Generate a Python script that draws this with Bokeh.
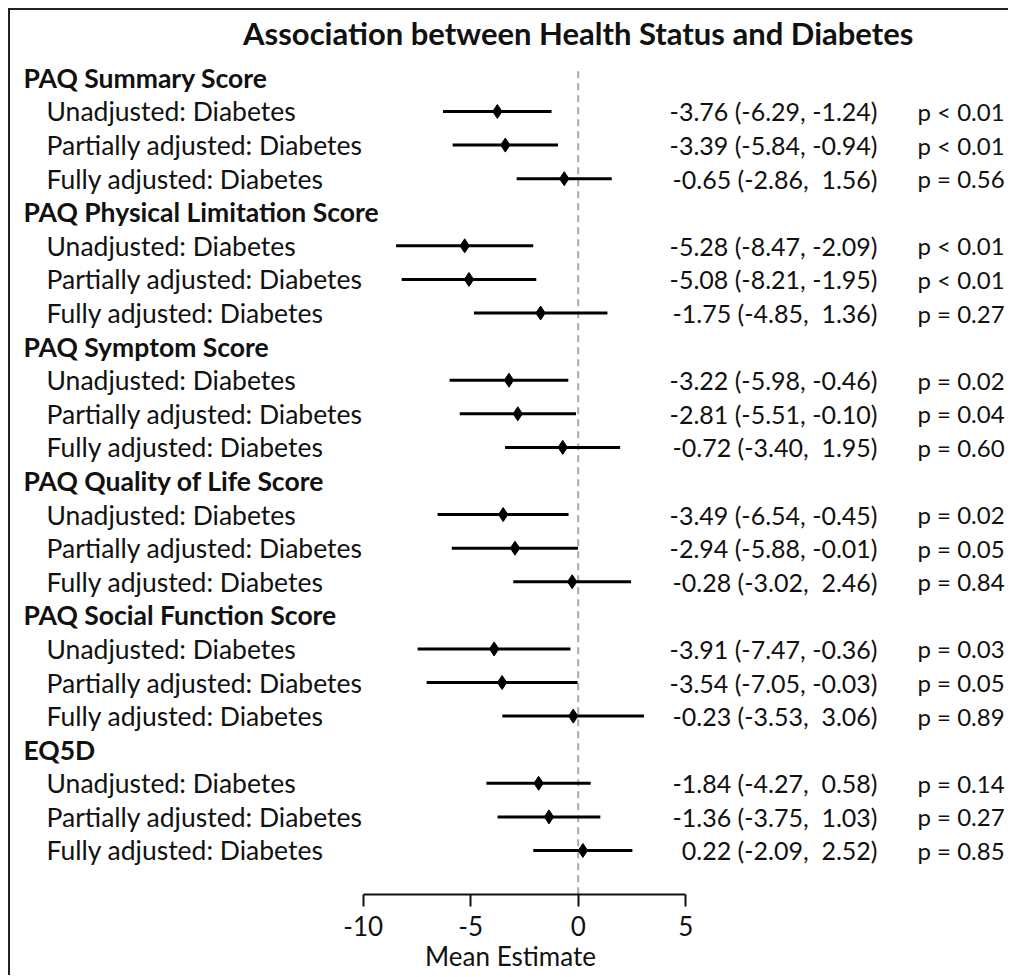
from bokeh.plotting import figure
from bokeh.models import Range1d, FixedTicker, ColumnDataSource
from bokeh.core.properties import value
from bokeh.embed import file_html
from bokeh.resources import INLINE

# ---------------- data ----------------
title_text = "Association between Health Status and Diabetes"
groups = ["PAQ Summary Score", "PAQ Physical Limitation Score", "PAQ Symptom Score",
          "PAQ Quality of Life Score", "PAQ Social Function Score", "EQ5D"]
models = ["Unadjusted: Diabetes", "Partially adjusted: Diabetes", "Fully adjusted: Diabetes"]
est = [-3.76, -3.39, -0.65,
       -5.28, -5.08, -1.75,
       -3.22, -2.81, -0.72,
       -3.49, -2.94, -0.28,
       -3.91, -3.54, -0.23,
       -1.84, -1.36, 0.22]
lo = [-6.29, -5.84, -2.86,
      -8.47, -8.21, -4.85,
      -5.98, -5.51, -3.40,
      -6.54, -5.88, -3.02,
      -7.47, -7.05, -3.53,
      -4.27, -3.75, -2.09]
hi = [-1.24, -0.94, 1.56,
      -2.09, -1.95, 1.36,
      -0.46, -0.10, 1.95,
      -0.45, -0.01, 2.46,
      -0.36, -0.03, 3.06,
      0.58, 1.03, 2.52]
p_labels = ["p < 0.01", "p < 0.01", "p = 0.56",
            "p < 0.01", "p < 0.01", "p = 0.27",
            "p = 0.02", "p = 0.04", "p = 0.60",
            "p = 0.02", "p = 0.05", "p = 0.84",
            "p = 0.03", "p = 0.05", "p = 0.89",
            "p = 0.14", "p = 0.27", "p = 0.85"]
x_ticks = [-10, -5, 0, 5]
x_label = "Mean Estimate"

# ---------------- layout helpers ----------------
FONT = "Lato"
n_per = len(models) + 1
header_y = [g * n_per for g in range(len(groups))]
row_y, row_lab = [], []
for g in range(len(groups)):
    for m, lab in enumerate(models):
        row_y.append(g * n_per + 1 + m)
        row_lab.append(lab)
est_txt = []
for e, l, h in zip(est, lo, hi):
    hs = f"{h:.2f}"
    if h >= 0:
        hs = "\u00a0" + hs
    est_txt.append(f"{e:.2f} ({l:.2f}, {hs})")

# pixel geometry (page px): x=0 at 577.7, 21.5 px/unit; rows start 77.4, 33.59 px/row
px0, pxu = 577.7, 21.5
py0, pyu = 77.4, 33.59
left, top, right = 10, 10, 1010
axis_y = 894
W, H = right - left, 977 - top
x_range = Range1d((left - px0) / pxu, (right - px0) / pxu)
y_range = Range1d((axis_y - py0) / pyu, (top - py0) / pyu)

p = figure(width=W, height=H, output_backend="svg", toolbar_location=None,
           x_range=x_range, y_range=y_range, y_axis_location=None,
           min_border_left=0, min_border_right=0, min_border_top=0,
           min_border_bottom=H - (axis_y - top))
p.styles = {"margin-left": f"{left}px", "margin-top": f"{top}px",
            "box-shadow": "-2px -2px 0px 0px #222"}
p.outline_line_color = None
p.grid.visible = False
p.background_fill_color = "white"
p.border_fill_color = "white"

ax = p.xaxis[0]
ax.ticker = FixedTicker(ticks=x_ticks)
ax.bounds = (min(x_ticks), max(x_ticks))
ax.major_label_overrides = {t: str(t) for t in x_ticks}
ax.axis_line_width = 2
ax.axis_line_color = "#111"
ax.major_tick_line_width = 2
ax.major_tick_line_color = "#111"
ax.major_tick_out = 12
ax.major_tick_in = 0
ax.minor_tick_out = 0
ax.minor_tick_in = 0
ax.major_label_text_font = FONT
ax.major_label_text_font_size = "26px"
ax.major_label_text_color = "#111"
ax.major_label_standoff = 9
ax.axis_label = x_label
ax.axis_label_text_font = FONT
ax.axis_label_text_font_size = "26px"
ax.axis_label_text_font_style = "normal"
ax.axis_label_text_color = "#111"
ax.axis_label_standoff = 1

# reference line at 0
p.segment(x0=[0], y0=[header_y[0] - 0.2], x1=[0], y1=[y_range.start],
          line_color="#aaaaaa", line_width=2, line_dash="7 5")

src = ColumnDataSource(dict(y=row_y, lab=row_lab, est=est, lo=lo, hi=hi,
                            et=est_txt, pl=p_labels))
p.segment(x0="lo", y0="y", x1="hi", y1="y", source=src, line_color="black", line_width=3)
p.scatter(x="est", y="y", source=src, marker="diamond", size=14, color="black")

# title
p.text(x=[0], y=[header_y[0] - 1.35], text=[title_text], text_font=value(FONT),
       text_font_size="31px", text_font_style="bold", text_align="center",
       text_baseline="middle", text_color="#111")
label_x_head = (23 - px0) / pxu
label_x_row = (46 - px0) / pxu
est_x = (877 - px0) / pxu
p_x = (917 - px0) / pxu
p.text(x=[label_x_head] * len(groups), y=header_y, text=groups, text_font=value(FONT),
       text_font_size="26.5px", text_font_style="bold", text_align="left",
       text_baseline="middle", text_color="#111")
p.text(x=label_x_row, y="y", text="lab", source=src, text_font=value(FONT),
       text_font_size="26.5px", text_align="left", text_baseline="middle", text_color="#111")
p.text(x=est_x, y="y", text="et", source=src, text_font=value(FONT),
       text_font_size="25px", text_align="right", text_baseline="middle", text_color="#111")
p.text(x=p_x, y="y", text="pl", source=src, text_font=value(FONT),
       text_font_size="24px", text_align="left", text_baseline="middle", text_color="#111")

open("out.html", "w").write(file_html(p, INLINE))
